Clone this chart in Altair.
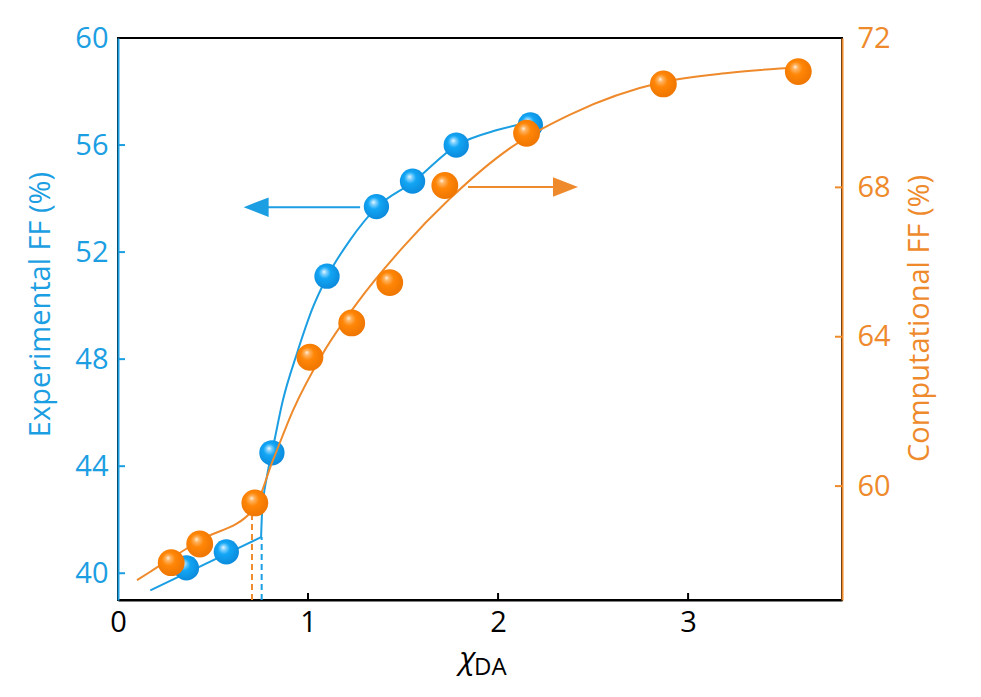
import altair as alt
import pandas as pd

# ---------------- data ----------------
blue_x = [0.36, 0.57, 0.81, 1.10, 1.36, 1.55, 1.78, 2.17]
blue_y = [40.2, 40.8, 44.5, 51.1, 53.7, 54.65, 56.0, 56.75]

orange_x = [0.28, 0.43, 0.72, 1.01, 1.23, 1.43, 1.72, 2.15, 2.87, 3.58]
orange_y = [57.95, 58.45, 59.55, 63.45, 64.37, 65.45, 68.05, 69.45, 70.77, 71.1]

# fitted curves
blue_low_x = [0.17, 0.753]
blue_low_y = [39.36, 41.35]
blue_fit_x = [0.753, 0.758, 0.783, 0.816, 0.868, 0.942, 1.026, 1.10, 1.221, 1.363, 1.553, 1.784, 1.995, 2.168]
blue_fit_y = [41.35, 42.24, 43.59, 44.71, 46.47, 48.22, 49.94, 51.07, 52.45, 53.68, 54.62, 56.0, 56.56, 56.85]

orange_fit_x = [0.10, 0.168, 0.432, 0.711, 0.816, 0.921, 1.079, 1.258, 1.50, 1.747, 2.063, 2.379, 2.868, 3.221, 3.589]
orange_fit_y = [57.48, 57.70, 58.55, 59.36, 60.70, 62.03, 63.56, 64.90, 66.40, 67.70, 69.05, 69.95, 70.82, 71.07, 71.22]

# dashed markers
blue_dash = {"x": [0.756], "y": [39.0], "y2": [41.35]}
orange_dash = {"x": [0.705], "y": [56.95], "y2": [59.2]}

# arrows
blue_arrow = {"x": [0.789], "x2": [1.274], "y": [53.68], "head": [0.727]}
orange_arrow = {"x": [1.842], "x2": [2.289], "y": [68.01], "head": [2.355]}

x_ticks = [0, 1, 2, 3]
left_ticks = [40, 44, 48, 52, 56, 60]
right_ticks = [60, 64, 68, 72]

# ---------------- styling ----------------
W, H = 724, 562
BLUE = "#1b9ee2"
ORANGE = "#ee8a2b"
FONT = "Open Sans"
LFS = 29   # tick label font size
TFS = 29   # axis title font size

xs = alt.Scale(domain=[0, 3.81], nice=False, zero=False)
ysl = alt.Scale(domain=[39, 60], nice=False, zero=False)
ysr = alt.Scale(domain=[56.95, 72], nice=False, zero=False)

blue_grad = {
    "gradient": "radial",
    "x1": 0.38, "y1": 0.32, "r1": 0.0,
    "x2": 0.45, "y2": 0.45, "r2": 0.62,
    "stops": [
        {"offset": 0.0, "color": "#f5fcff"},
        {"offset": 0.13, "color": "#8fd6ff"},
        {"offset": 0.38, "color": "#12a6f5"},
        {"offset": 1.0, "color": "#0b86d8"},
    ],
}
orange_grad = {
    "gradient": "radial",
    "x1": 0.38, "y1": 0.32, "r1": 0.0,
    "x2": 0.45, "y2": 0.45, "r2": 0.62,
    "stops": [
        {"offset": 0.0, "color": "#fff6ea"},
        {"offset": 0.14, "color": "#ffb565"},
        {"offset": 0.4, "color": "#ff8606"},
        {"offset": 1.0, "color": "#ec7300"},
    ],
}

x_axis = alt.Axis(values=x_ticks, title=None, ticks=False, grid=False, format="d",
                  labelPadding=8, labelFontSize=LFS, labelColor="black", labelFont=FONT,
                  labelFlush=False, domainColor="black", domainWidth=2)
l_axis = alt.Axis(orient="left", values=left_ticks, title="Experimental FF (%)",
                  ticks=False, grid=False, labelPadding=10, labelFontSize=LFS,
                  labelColor=BLUE, labelFont=FONT, domainColor=BLUE, domainWidth=2,
                  titleColor=BLUE, titleFont=FONT, titleFontSize=TFS,
                  titleFontWeight="normal", titleAngle=270, titleAlign="center",
                  titleBaseline="middle", titleX=-78, titleY=266)
r_axis = alt.Axis(orient="right", values=right_ticks, title="Computational FF (%)",
                  ticks=False, grid=False, labelPadding=15, labelFontSize=LFS,
                  labelColor=ORANGE, labelFont=FONT, domainColor=ORANGE, domainWidth=2,
                  titleColor=ORANGE, titleFont=FONT, titleFontSize=TFS,
                  titleFontWeight="normal", titleAngle=270, titleAlign="center",
                  titleBaseline="middle", titleX=77, titleY=280)


def X(f):
    return alt.X(f, scale=xs, axis=x_axis)


def YL(f):
    return alt.Y(f, scale=ysl, axis=l_axis)


def YR(f):
    return alt.Y(f, scale=ysr, axis=r_axis)


# ---------------- blue (left axis) ----------------
bpts = pd.DataFrame({"x": blue_x, "y": blue_y})
blow = pd.DataFrame({"x": blue_low_x, "y": blue_low_y})
bfit = pd.DataFrame({"x": blue_fit_x, "y": blue_fit_y})

b_low = alt.Chart(blow).mark_line(color=BLUE, strokeWidth=2).encode(x=X("x:Q"), y=YL("y:Q"))
b_fit = alt.Chart(bfit).mark_line(color=BLUE, strokeWidth=2, interpolate="monotone").encode(
    x=X("x:Q"), y=YL("y:Q"))
b_dash = alt.Chart(pd.DataFrame(blue_dash)).mark_rule(color=BLUE, strokeWidth=2, strokeDash=[6, 4]).encode(
    x=X("x:Q"), y=YL("y:Q"), y2="y2:Q")
b_arrow = alt.Chart(pd.DataFrame(blue_arrow)).mark_rule(color=BLUE, strokeWidth=2).encode(
    x=X("x:Q"), x2="x2:Q", y=YL("y:Q"))
b_head = alt.Chart(pd.DataFrame(blue_arrow)).mark_point(
    shape="M-1,0L1,-0.78L1,0.78Z", size=625, filled=True, opacity=1, color=BLUE, strokeWidth=0
).encode(x=X("head:Q"), y=YL("y:Q"))
b_pts = alt.Chart(bpts).mark_circle(size=640, opacity=1, color=blue_grad).encode(
    x=X("x:Q"), y=YL("y:Q"))
b_ticks = alt.Chart(pd.DataFrame({"v": left_ticks[:-1]})).mark_rule(color=BLUE, strokeWidth=2).encode(
    y=YL("v:Q"), x=alt.value(0), x2=alt.value(7))
x_tick_rules = alt.Chart(pd.DataFrame({"v": x_ticks[1:]})).mark_rule(color="black", strokeWidth=2).encode(
    x=X("v:Q"), y=alt.value(H), y2=alt.value(H - 7))
x_title_a = alt.Chart(pd.DataFrame({"t": ["χ"]})).mark_text(
    font=FONT, fontSize=31, fontStyle="italic", align="right", baseline="alphabetic", color="black"
).encode(text="t:N", x=alt.value(357), y=alt.value(631))
x_title_b = alt.Chart(pd.DataFrame({"t": ["DA"]})).mark_text(
    font=FONT, fontSize=24, align="left", baseline="alphabetic", color="black"
).encode(text="t:N", x=alt.value(356), y=alt.value(637))

blue_layer = alt.layer(b_low, b_fit, b_dash, b_arrow, b_head, b_ticks, x_tick_rules,
                       x_title_a, x_title_b, b_pts)

# ---------------- orange (right axis) ----------------
opts = pd.DataFrame({"x": orange_x, "y": orange_y})
ofit = pd.DataFrame({"x": orange_fit_x, "y": orange_fit_y})

o_fit = alt.Chart(ofit).mark_line(color=ORANGE, strokeWidth=2, interpolate="monotone").encode(
    x=X("x:Q"), y=YR("y:Q"))
o_dash = alt.Chart(pd.DataFrame(orange_dash)).mark_rule(color=ORANGE, strokeWidth=2, strokeDash=[6, 4]).encode(
    x=X("x:Q"), y=YR("y:Q"), y2="y2:Q")
o_arrow = alt.Chart(pd.DataFrame(orange_arrow)).mark_rule(color=ORANGE, strokeWidth=2).encode(
    x=X("x:Q"), x2="x2:Q", y=YR("y:Q"))
o_head = alt.Chart(pd.DataFrame(orange_arrow)).mark_point(
    shape="M1,0L-1,-0.78L-1,0.78Z", size=625, filled=True, opacity=1, color=ORANGE, strokeWidth=0
).encode(x=X("head:Q"), y=YR("y:Q"))
o_pts = alt.Chart(opts).mark_circle(size=720, opacity=1, color=orange_grad).encode(
    x=X("x:Q"), y=YR("y:Q"))
o_ticks = alt.Chart(pd.DataFrame({"v": right_ticks[:-1]})).mark_rule(color=ORANGE, strokeWidth=2).encode(
    y=YR("v:Q"), x=alt.value(W), x2=alt.value(W - 7))

orange_layer = alt.layer(o_fit, o_dash, o_arrow, o_head, o_ticks, o_pts)

chart = (
    alt.layer(blue_layer, orange_layer)
    .resolve_scale(y="independent")
    .properties(
        width=W, height=H,
        autosize=alt.AutoSizeParams(type="none"),
        padding={"left": 118, "top": 38, "right": 139, "bottom": 97},
        background="white",
    )
    .configure_view(stroke="black", strokeWidth=2)
)

chart.save("out.html", embed_options={"renderer": "svg", "actions": False})
